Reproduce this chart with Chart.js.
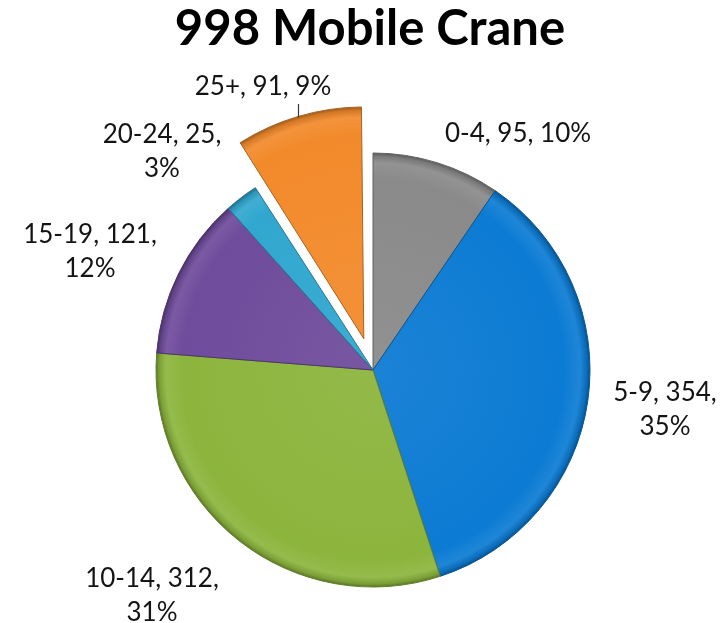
<!DOCTYPE html>
<html>
<head>
<meta charset="utf-8">
<script src="https://cdn.jsdelivr.net/npm/chart.js@4"></script>
<style>
html,body{margin:0;padding:0;background:#ffffff;}
#wrap{width:724px;height:623px;position:relative;}
canvas{display:block;}
</style>
</head>
<body>
<div id="wrap"><canvas id="c" width="724" height="623"></canvas></div>
<script>
// ---- data ----
const chartTitle = '998 Mobile Crane';
const categories = ['0-4', '5-9', '10-14', '15-19', '20-24', '25+'];
const counts = [95, 354, 312, 121, 25, 91];

// ---- styles / layout (not data) ----
const sliceColors = ['#8a8a8a', '#0c7bd3', '#8cb53d', '#6f4c9c', '#31a7cf', '#f28a2b'];
const explode = [0, 0, 0, 0, 0, 130];
const pieRadius = 217;
const labelFont = '26px Lato';
const titleFont = 'bold 49px Lato';
const labelLayout = [
  { x: 518, y: 142, split: false },
  { x: 665, y: 401, split: true },
  { x: 152, y: 587, split: true },
  { x: 90,  y: 243, split: true },
  { x: 162, y: 143, split: true },
  { x: 263, y: 95,  split: false, leaderX: 298 }
];

const total = counts.reduce((a, b) => a + b, 0);

function shade(hex, f) {
  const n = parseInt(hex.slice(1), 16);
  let r = (n >> 16) & 255, g = (n >> 8) & 255, b = n & 255;
  const t = f < 0 ? 0 : 255, p = Math.abs(f);
  r = Math.round(r + (t - r) * p); g = Math.round(g + (t - g) * p); b = Math.round(b + (t - b) * p);
  return 'rgb(' + r + ',' + g + ',' + b + ')';
}

function extraRadius(i) {
  const circ = 2 * Math.PI * counts[i] / total;
  return explode[i] / 4 * (1 - Math.sin(Math.min(Math.PI, circ)));
}

function sliceFill(ctx) {
  const chart = ctx.chart, area = chart.chartArea;
  const base = sliceColors[ctx.dataIndex];
  if (!area) return base;
  const cx = (area.left + area.right) / 2, cy = (area.top + area.bottom) / 2;
  const R = pieRadius + extraRadius(ctx.dataIndex);
  const g = chart.ctx.createRadialGradient(cx, cy, 0, cx, cy, R);
  g.addColorStop(0, shade(base, 0.06));
  g.addColorStop(0.88, base);
  g.addColorStop(0.955, shade(base, 0.08));
  g.addColorStop(0.985, shade(base, -0.12));
  g.addColorStop(1, shade(base, -0.35));
  return g;
}

const labelPlugin = {
  id: 'labelPlugin',
  afterDraw(chart) {
    const c = chart.ctx;
    c.save();
    // title
    c.font = titleFont;
    c.fillStyle = '#000000';
    c.textAlign = 'center';
    c.textBaseline = 'alphabetic';
    c.fillText(chartTitle, 370, 45);
    // data labels
    c.font = labelFont;
    c.fillStyle = '#141414';
    const meta = chart.getDatasetMeta(0);
    categories.forEach((cat, i) => {
      const pct = Math.round(counts[i] / total * 100);
      const L = labelLayout[i];
      if (L.split) {
        c.fillText(cat + ', ' + counts[i] + ',', L.x, L.y);
        c.fillText(pct + '%', L.x, L.y + 34);
      } else {
        c.fillText(cat + ', ' + counts[i] + ', ' + pct + '%', L.x, L.y);
      }
      if (L.leaderX !== undefined) {
        const el = meta.data[i];
        const off = explode[i] / 4;
        const half = (el.startAngle + el.endAngle) / 2;
        const ex = el.x + Math.cos(half) * off;
        const ey = el.y + Math.sin(half) * off;
        const R = el.outerRadius + extraRadius(i);
        const dx = L.leaderX - ex;
        const yEnd = ey - Math.sqrt(Math.max(R * R - dx * dx, 0));
        const yStart = L.y + 9;
        if (yEnd > yStart) {
          c.strokeStyle = '#3a3a3a';
          c.lineWidth = 1.2;
          c.beginPath();
          c.moveTo(L.leaderX + 0.5, yStart);
          c.lineTo(L.leaderX + 0.5, yEnd + 1);
          c.stroke();
        }
      }
    });
    c.restore();
  }
};

new Chart(document.getElementById('c'), {
  type: 'pie',
  data: {
    labels: categories,
    datasets: [{
      data: counts,
      backgroundColor: sliceFill,
      borderColor: (ctx) => shade(sliceColors[ctx.dataIndex], -0.3),
      borderWidth: 1,
      offset: explode,
      hoverOffset: 0
    }]
  },
  options: {
    responsive: false,
    devicePixelRatio: 1,
    animation: false,
    events: [],
    radius: pieRadius,
    layout: { padding: { left: 32, right: 10, top: 127, bottom: 10 } },
    plugins: {
      legend: { display: false },
      title: { display: false },
      tooltip: { enabled: false }
    }
  },
  plugins: [labelPlugin]
});
</script>
</body>
</html>
